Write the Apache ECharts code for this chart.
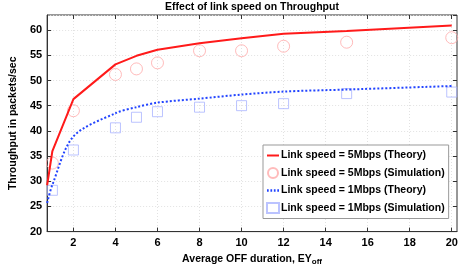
<!DOCTYPE html>
<html><head><meta charset="utf-8">
<script src="https://cdn.jsdelivr.net/npm/echarts@6/dist/echarts.min.js"></script>
<style>html,body{margin:0;padding:0;background:#fff}#c{width:461px;height:271px}</style>
</head><body><div id="c"></div>
<script>
const theoryX = [0.75, 1, 2, 4, 5, 6, 8, 10, 12, 15, 20];
const theory5 = [29.2, 36.0, 46.3, 53.2, 54.9, 56.1, 57.4, 58.4, 59.3, 59.8, 60.9];
const theory1 = [25.7, 29.3, 38.9, 43.5, 44.7, 45.6, 46.4, 47.2, 47.8, 48.2, 48.9];
const simX = [1, 2, 4, 5, 6, 8, 10, 12, 15, 20];
const sim5 = [33.6, 44.0, 51.2, 52.3, 53.5, 55.9, 55.9, 56.8, 57.6, 58.5];
const sim1 = [28.2, 36.2, 40.6, 42.7, 43.8, 44.7, 45.0, 45.4, 47.4, 47.7];
const xTicks = [2, 4, 6, 8, 10, 12, 14, 16, 18, 20];
const names = ['Link speed = 5Mbps (Theory)', 'Link speed = 5Mbps (Simulation)', 'Link speed = 1Mbps (Theory)', 'Link speed = 1Mbps (Simulation)'];

const pair = (xs, ys) => xs.map((x, i) => [x, ys[i]]);
const FONT = 'Liberation Sans, Arial, sans-serif';
const chart = echarts.init(document.getElementById('c'));
const gridLine = { show: true, lineStyle: { color: '#e2e2e2', type: [1, 2], width: 1 } };
const solidIcon = 'path://M0,4L12,4L12,6L0,6Z';
const dotIcon = 'path://M0,4h1.5v2h-1.5zM3,4h1.5v2h-1.5zM6,4h1.5v2h-1.5zM9,4h1.5v2h-1.5z';
chart.setOption({
  animation: false,
  title: { text: 'Effect of link speed on Throughput', left: 252, top: 2, textAlign: 'center', padding: 0,
    textStyle: { fontFamily: FONT, fontWeight: 'bold', fontSize: 10.5, color: '#000' } },
  grid: { left: 45, right: 4, top: 15, bottom: 33, show: true, borderColor: '#333', borderWidth: 1 },
  legend: {
    orient: 'vertical', left: 263, top: 145, itemWidth: 12, itemHeight: 10, itemGap: 4.5,
    padding: [4, 4, 4, 3], backgroundColor: '#fff', borderColor: '#999', borderWidth: 1,
    textStyle: { fontFamily: FONT, fontWeight: 'bold', fontSize: 10.5, lineHeight: 13, color: '#000', padding: [0, 0, 0, -3] },
    data: [
      { name: names[0], icon: solidIcon },
      { name: names[1] },
      { name: names[2], icon: dotIcon },
      { name: names[3] }
    ]
  },
  xAxis: [{
    type: 'value', min: 0.75, max: 20.25,
    name: '{a|Average OFF duration, EY}{s|off}', nameLocation: 'middle', nameGap: 19,
    nameTextStyle: { rich: {
      a: { fontFamily: FONT, fontWeight: 'bold', fontSize: 10.5, color: '#000' },
      s: { fontFamily: FONT, fontWeight: 'bold', fontSize: 8, color: '#000', verticalAlign: 'bottom', padding: [6, 0, 0, 0] } } },
    axisLine: { show: true, onZero: false, lineStyle: { color: '#333' } },
    axisTick: { show: true, inside: true, length: 4, customValues: xTicks, lineStyle: { color: '#333' } },
    axisLabel: { customValues: xTicks, margin: 6, fontFamily: FONT, fontWeight: 'bold', fontSize: 11, color: '#000' },
    splitLine: gridLine
  }, {
    type: 'value', min: 0.75, max: 20.25, position: 'top',
    axisLine: { show: false }, axisLabel: { show: false }, splitLine: { show: false },
    axisTick: { show: true, inside: true, length: 4, customValues: xTicks, lineStyle: { color: '#333' } }
  }],
  yAxis: [{
    type: 'value', min: 20, max: 63, interval: 5,
    name: 'Throughput in packets/sec', nameLocation: 'middle', nameGap: 23,
    nameTextStyle: { fontFamily: FONT, fontWeight: 'bold', fontSize: 10.5, color: '#000' },
    axisLine: { show: true, lineStyle: { color: '#333' } },
    axisTick: { show: true, inside: true, length: 4, lineStyle: { color: '#333' } },
    axisLabel: { showMaxLabel: false, margin: 5, fontFamily: FONT, fontWeight: 'bold', fontSize: 11, color: '#000' },
    splitLine: gridLine
  }, {
    type: 'value', min: 20, max: 63, interval: 5, position: 'right',
    axisLine: { show: false }, axisLabel: { show: false }, splitLine: { show: false },
    axisTick: { show: true, inside: true, length: 4, lineStyle: { color: '#333' } }
  }],
  series: [
    { name: names[0], type: 'line', data: pair(theoryX, theory5), showSymbol: false, symbol: 'none',
      lineStyle: { color: '#ff1a1a', width: 2 }, itemStyle: { color: '#ff1a1a' } },
    { name: names[1], type: 'scatter', data: pair(simX, sim5), symbol: 'circle', symbolSize: 12,
      itemStyle: { color: 'rgba(0,0,0,0)', borderColor: '#ffaaaa', borderWidth: 1 } },
    { name: names[2], type: 'line', data: pair(theoryX, theory1), showSymbol: false, symbol: 'none', smooth: 0.3,
      lineStyle: { color: '#2244ff', width: 2, type: [2, 2] }, itemStyle: { color: '#2244ff' } },
    { name: names[3], type: 'scatter', data: pair(simX, sim1), symbol: 'rect', symbolSize: 10,
      itemStyle: { color: 'rgba(0,0,0,0)', borderColor: '#aab4ff', borderWidth: 1 } }
  ]
});
</script></body></html>
